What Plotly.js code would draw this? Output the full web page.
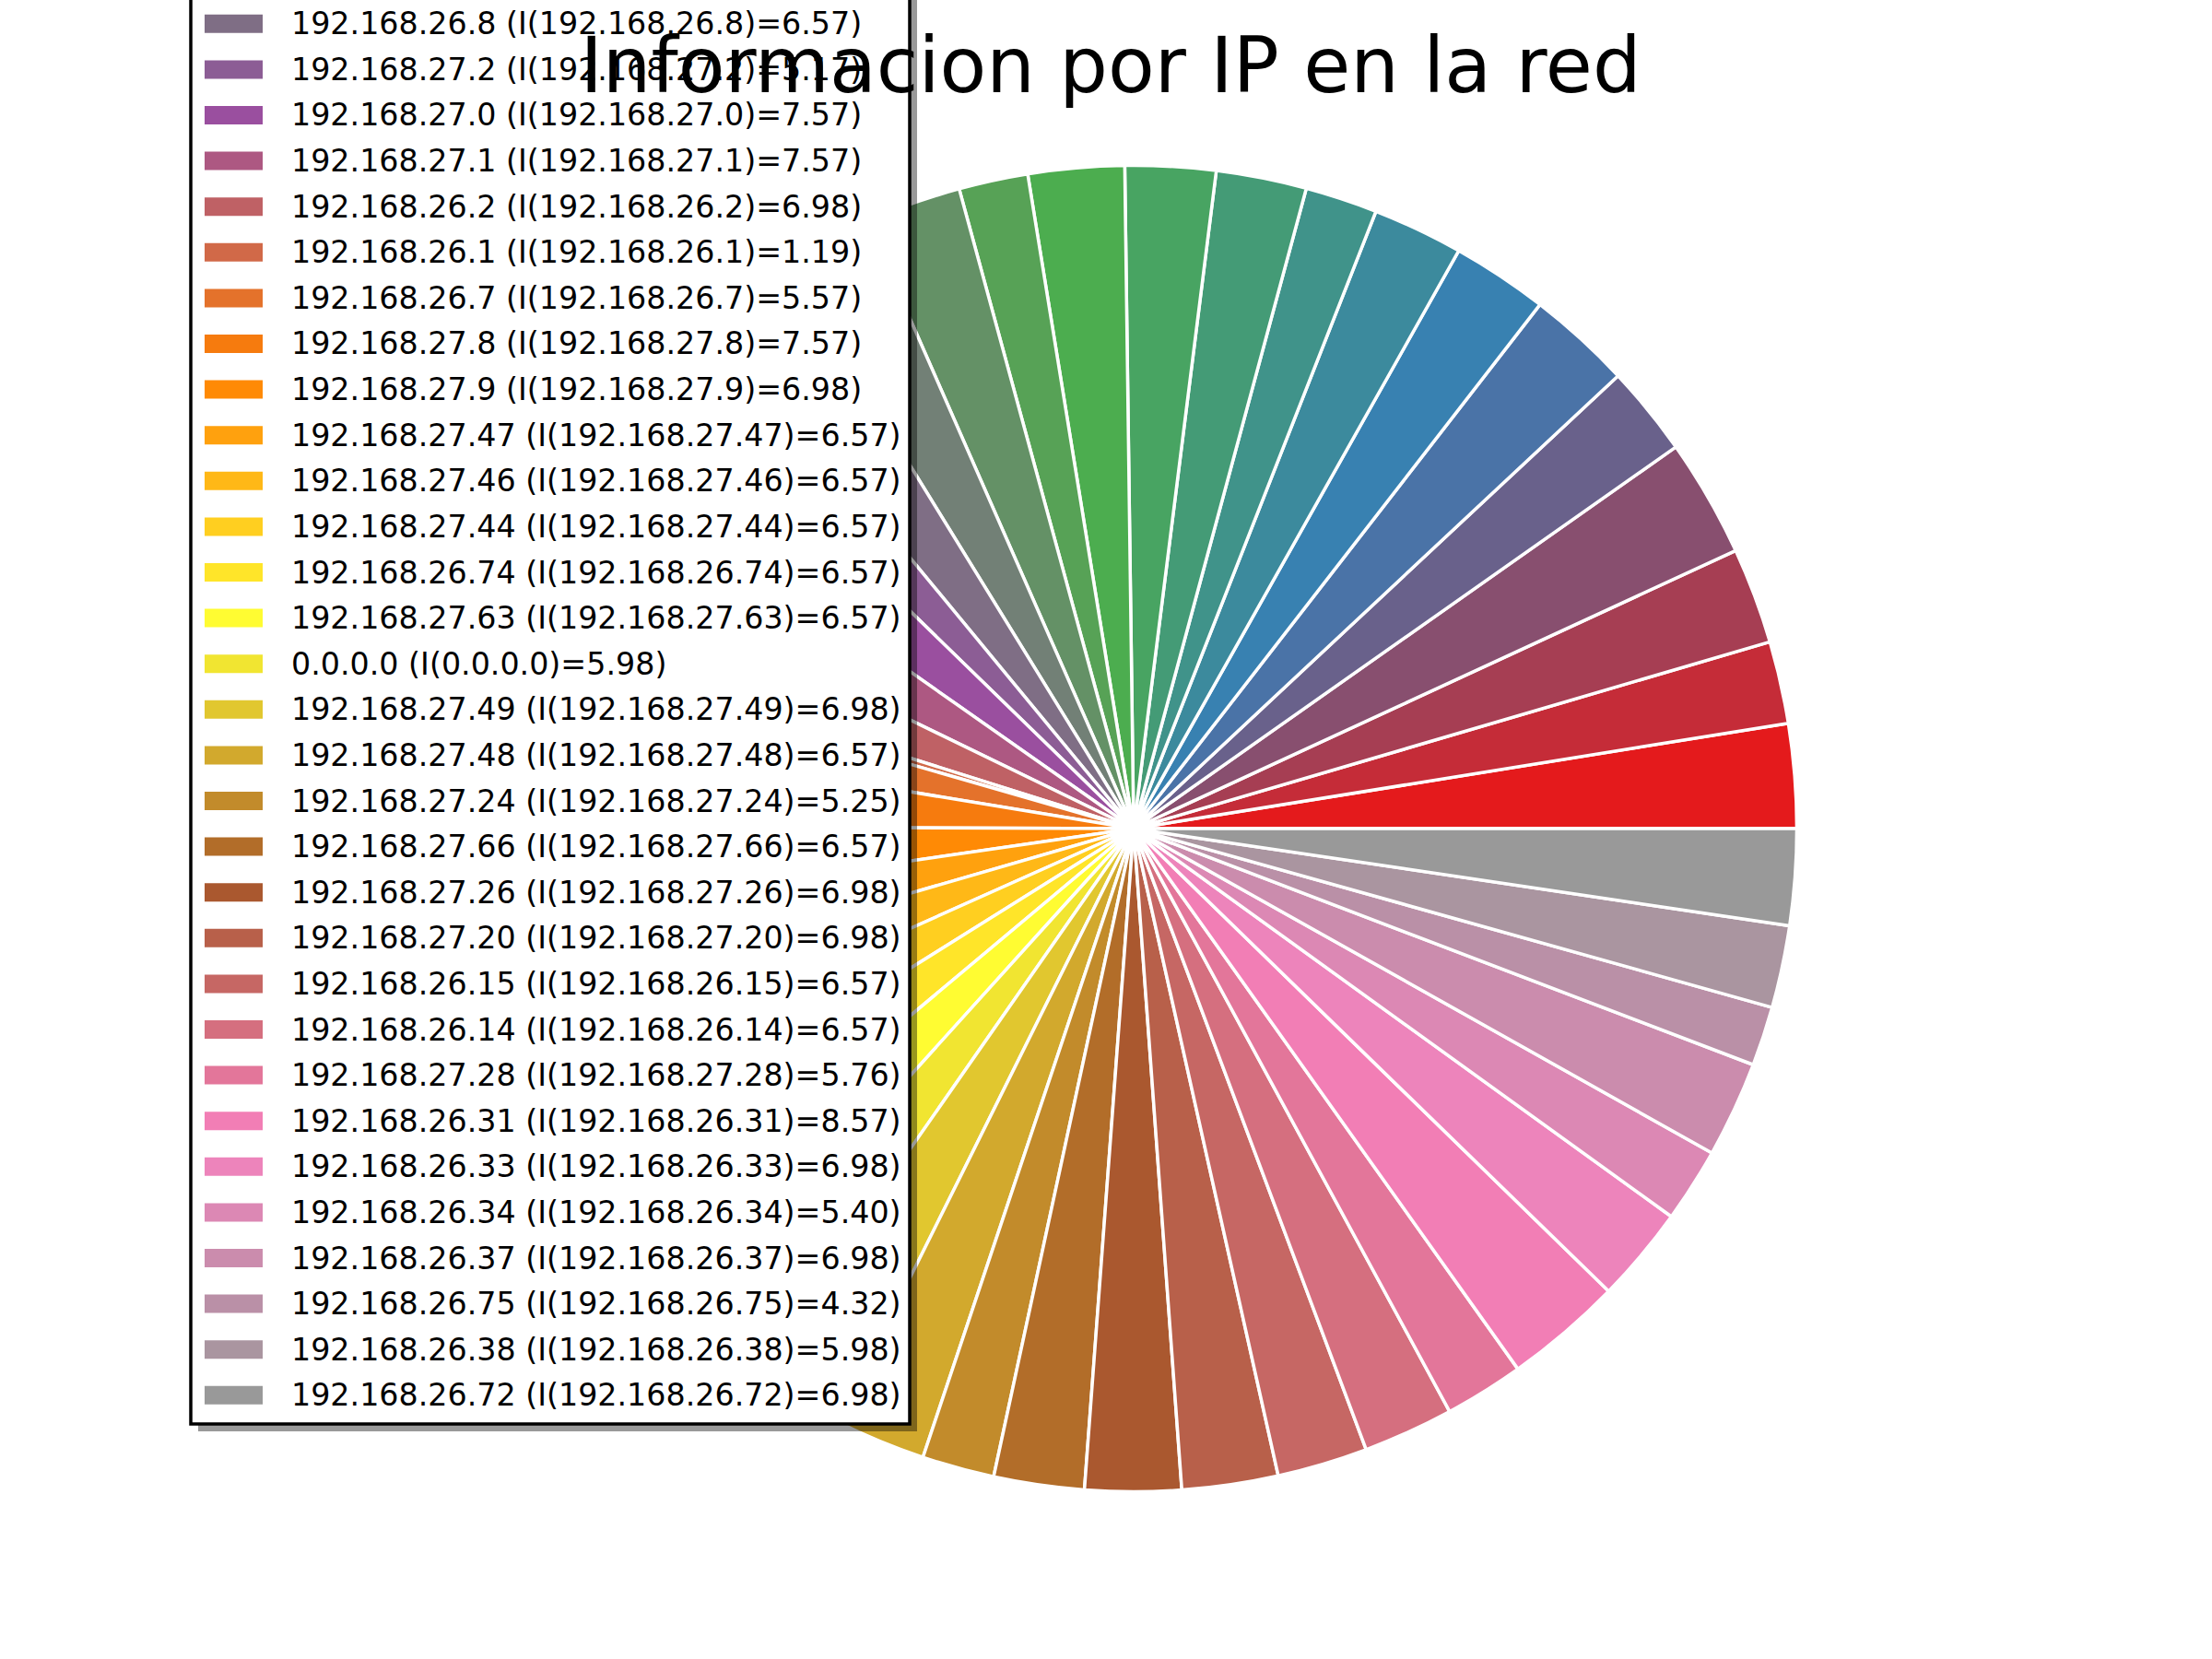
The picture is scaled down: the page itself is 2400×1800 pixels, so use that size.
<!DOCTYPE html>
<html><head><meta charset="utf-8">
<script src="https://cdn.plot.ly/plotly-3.0.1.min.js"></script>
<style>html,body{margin:0;padding:0;background:#fff}</style>
</head><body>
<div id="chart" style="width:2400px;height:1800px"></div>
<script>
// Slices 1-15 belong to legend rows that are clipped off the top of the figure (labels not readable)
const ips = [
  "IP oculta 01","IP oculta 02","IP oculta 03","IP oculta 04","IP oculta 05",
  "IP oculta 06","IP oculta 07","IP oculta 08","IP oculta 09","IP oculta 10",
  "IP oculta 11","IP oculta 12","IP oculta 13","IP oculta 14","IP oculta 15",
  "192.168.26.8","192.168.27.2","192.168.27.0","192.168.27.1","192.168.26.2",
  "192.168.26.1","192.168.26.7","192.168.27.8","192.168.27.9","192.168.27.47",
  "192.168.27.46","192.168.27.44","192.168.26.74","192.168.27.63","0.0.0.0",
  "192.168.27.49","192.168.27.48","192.168.27.24","192.168.27.66","192.168.27.26",
  "192.168.27.20","192.168.26.15","192.168.26.14","192.168.27.28","192.168.26.31",
  "192.168.26.33","192.168.26.34","192.168.26.37","192.168.26.75","192.168.26.38",
  "192.168.26.72"
];
const info = [
  7.57, 5.98, 6.98, 8.57, 6.57,
  7.57, 6.98, 6.57, 5.25, 6.57,
  6.57, 6.98, 5.02, 6.98, 6.57,
  6.57, 5.17, 7.57, 7.57, 6.98,
  1.19, 5.57, 7.57, 6.98, 6.57,
  6.57, 6.57, 6.57, 6.57, 5.98,
  6.98, 6.57, 5.25, 6.57, 6.98,
  6.98, 6.57, 6.57, 5.76, 8.57,
  6.98, 5.40, 6.98, 4.32, 5.98,
  6.98
];
const titleText = "Informacion por IP en la red";

// Set1 palette, interpolated continuously across the slices
const set1 = [[228,26,28],[55,126,184],[77,175,74],[152,78,163],[255,127,0],[255,255,51],[166,86,40],[247,129,191],[153,153,153]];
const n = ips.length;
const colors = ips.map((_, i) => {
  const p = i / (n - 1) * (set1.length - 1);
  const k = Math.min(Math.floor(p), set1.length - 2);
  const t = p - k;
  const c = set1[k].map((v, j) => Math.round(v + (set1[k + 1][j] - v) * t));
  return `rgb(${c[0]},${c[1]},${c[2]})`;
});

const W = 2400, H = 1800;
const px = x => x / W;
const py = y => 1 - y / H;

// pie geometry
const cx = 1230, cy = 899, r = 719.5;
const total = info.reduce((a, b) => a + b, 0);
// first slice starts at 3 o'clock and slices run counterclockwise
const rot = 90 - 360 * info[0] / total;

// legend geometry (matplotlib-like legend, partially clipped at top)
const rowH = 49.6, firstVisible = 15, row0 = 25.8;
const rowY = i => row0 + rowH * (i - firstVisible);
const boxL = 207, boxR = 987, boxB = 1545, boxT = rowY(0) - 45;
const shadow = 8;

const shapes = [];
shapes.push({type:'rect', xref:'paper', yref:'paper', layer:'above',
  x0:px(boxL + shadow), x1:px(boxR + shadow), y0:py(boxB + shadow), y1:py(boxT + shadow),
  fillcolor:'rgba(0,0,0,0.4)', line:{width:0}});
shapes.push({type:'rect', xref:'paper', yref:'paper', layer:'above',
  x0:px(boxL), x1:px(boxR), y0:py(boxB), y1:py(boxT),
  fillcolor:'white', line:{color:'black', width:3.5}});
const annotations = [];
ips.forEach((ip, i) => {
  const yc = rowY(i);
  shapes.push({type:'rect', xref:'paper', yref:'paper', layer:'above',
    x0:px(222), x1:px(285), y0:py(yc + 10), y1:py(yc - 10),
    fillcolor:colors[i], line:{width:0}});
  annotations.push({xref:'paper', yref:'paper', x:px(314), y:py(yc),
    xanchor:'left', yanchor:'middle', showarrow:false,
    text:`${ip} (I(${ip})=${info[i].toFixed(2)})`,
    font:{family:'DejaVu Sans', size:33.3, color:'black'}});
});

const trace = {
  type:'pie', labels:ips, values:info, sort:false,
  direction:'counterclockwise', rotation:rot,
  marker:{colors:colors, line:{color:'white', width:3.5}},
  textinfo:'none', hoverinfo:'label+value', showlegend:false,
  domain:{x:[px(cx - r), px(cx + r)], y:[(H - cy - r) / H, (H - cy + r) / H]}
};

const layout = {
  width:W, height:H, margin:{l:0, r:0, t:0, b:0, pad:0},
  paper_bgcolor:'white', plot_bgcolor:'white', showlegend:false,
  title:{text:titleText, x:1205 / W, xanchor:'center', xref:'container',
    y:1 - 100 / H, yanchor:'bottom', yref:'container',
    font:{family:'DejaVu Sans', size:83, color:'black'}},
  shapes:shapes, annotations:annotations
};

Plotly.newPlot('chart', [trace], layout, {staticPlot:true, displayModeBar:false});
</script>
</body></html>
